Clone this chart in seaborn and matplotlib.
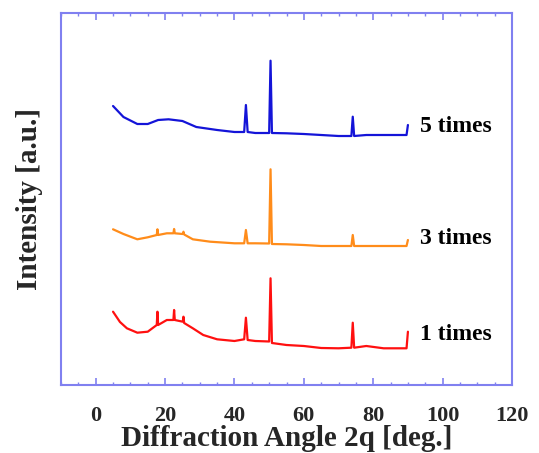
import matplotlib
matplotlib.use("Agg")
import matplotlib.pyplot as plt
from matplotlib.ticker import MultipleLocator
import seaborn as sns
import pandas as pd

# ---- data (y in arbitrary offset units) ----
x_5 = [5, 8, 12, 15, 18, 21, 25, 29, 35, 40, 42.8, 43.3, 43.8, 46, 50.0, 50.4, 50.8,
       55, 60, 65, 70, 73.7, 74.1, 74.5, 78, 85, 89.6, 90]
y_5 = [279, 268, 261, 261, 265, 265.7, 264, 258, 255, 253, 253, 280, 253, 252, 252, 324.3, 252,
       251.7, 251, 250, 249, 249, 268.3, 249, 250, 250, 250, 260]

x_3 = [5, 8, 12, 15, 17.6, 17.8, 18.0, 20.5, 22.4, 22.6, 22.8, 25.1, 25.3, 25.5, 28, 33, 40,
       42.8, 43.3, 43.8, 46, 50.0, 50.4, 50.8, 55, 60, 65, 70, 73.7, 74.1, 74.5, 80, 89.6, 90]
y_3 = [155.7, 151, 145.7, 147.7, 150, 155.7, 150, 151.7, 151.7, 156, 151.7, 151, 153.3, 150.5,
       145.7, 143.3, 141.7, 141.7, 155, 141.7, 141.7, 141.5, 215.7, 141, 140.7, 140, 139, 139, 139,
       150, 139, 139, 139, 145]

x_1 = [5, 7, 9, 12, 15, 17.6, 17.8, 18.0, 20.5, 22.4, 22.6, 22.8, 25.1, 25.3, 25.5, 28, 31, 35,
       40, 42.8, 43.3, 43.8, 46, 50.0, 50.4, 50.8, 55, 60, 65, 70, 73.7, 74.1, 74.5, 78, 83, 89.6, 90]
y_1 = [73.3, 63, 56.7, 52.3, 53.3, 60, 73.3, 60, 65, 65, 75, 65, 63.3, 68.3, 62, 56.7, 50, 45.7,
       44, 45.7, 67.3, 45, 44, 43.5, 106.7, 42, 40, 39, 37, 36.7, 37.3, 62.3, 37.3, 39, 36.7, 36.7, 53.3]

series_labels = ["1 times", "3 times", "5 times"]
label_y = [50, 147, 258]
x_ticks = [0, 20, 40, 60, 80, 100, 120]
x_label = "Diffraction Angle 2q [deg.]"
y_label = "Intensity [a.u.]"

colors = {"1 times": "#ff1010", "3 times": "#ff8c1a", "5 times": "#1414d8"}

frames = []
for lab, xs, ys in zip(series_labels, [x_1, x_3, x_5], [y_1, y_3, y_5]):
    frames.append(pd.DataFrame({"angle": xs, "intensity": ys, "sample": lab}))
df = pd.concat(frames, ignore_index=True)

sns.set_style("white")
plt.rcParams["font.family"] = ["Liberation Serif", "DejaVu Serif"]

fig = plt.figure(figsize=(5.39, 4.53), dpi=100)
ax = fig.add_axes([61 / 539, 68 / 453, 451 / 539, 372 / 453])

for lab in series_labels:
    sub = df[df["sample"] == lab]
    sns.lineplot(data=sub, x="angle", y="intensity", ax=ax, color=colors[lab],
                 linewidth=1.6, sort=False, estimator=None, legend=False)

for lab, yy in zip(series_labels, label_y):
    ax.text(93.5, yy, lab, fontsize=17, fontweight="bold", va="center", ha="left",
            color="black")

ax.set_xlim(-10, 120)
ax.set_ylim(0, 372)
ax.set_xticks(x_ticks)
ax.xaxis.set_minor_locator(MultipleLocator(5))
ax.set_yticks([])

frame_col = "#8080f0"
for s in ax.spines.values():
    s.set_color(frame_col)
    s.set_linewidth(1.5)
    s.set_visible(True)

ax.tick_params(axis="x", which="both", direction="in", top=True, bottom=True,
               color=frame_col, labelsize=16, pad=15)
ax.tick_params(axis="x", which="major", length=5, width=1.2)
ax.tick_params(axis="x", which="minor", length=2.5, width=1.0)
for t in ax.get_xticklabels():
    t.set_fontweight("bold")

ax.set_xlabel(x_label, fontsize=21, fontweight="bold")
ax.xaxis.label.set_va("center")
ax.xaxis.set_label_coords(0.5, (385 - 438) / 372)
ax.set_ylabel(y_label, fontsize=21, fontweight="bold")
ax.yaxis.label.set_va("center")
ax.yaxis.set_label_coords((30 - 61) / 451, 0.5)

fig.savefig("out.png", dpi=100)
